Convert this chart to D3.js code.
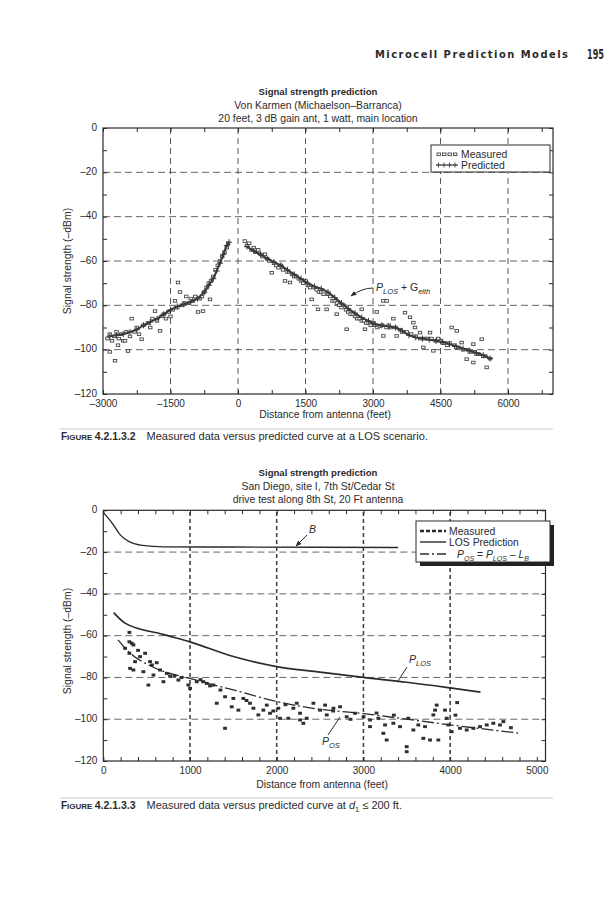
<!DOCTYPE html>
<html>
<head>
<meta charset="utf-8">
<script src="https://cdn.jsdelivr.net/npm/d3@7"></script>
<style>
  body { margin: 0; background: #fff; }
  text { font-family: "Liberation Sans", Arial, sans-serif; fill: #2b2b2b; }
</style>
</head>
<body>
<svg id="page" width="613" height="900"></svg>
<script>
// ---- top chart data (distance ft, signal dBm) ----
const topXTicks = [-3000, -1500, 0, 1500, 3000, 4500, 6000];
const topYTicks = [0, -20, -40, -60, -80, -100, -120];

const predLeftDist = [-2850, -2700, -2550, -2400, -2250, -2100, -1950, -1800, -1650, -1500, -1350, -1200, -1050, -900, -750, -650, -550, -475, -400, -325, -250, -200];
const predLeftSig = [-94, -93.5, -93, -92, -91, -89, -87.5, -86, -84, -82, -80.5, -79.5, -78.5, -77, -74, -71, -68, -64.5, -61, -57, -53, -51.5];
const predRightDist = [200, 350, 500, 650, 800, 950, 1100, 1250, 1400, 1550, 1700, 1850, 2000, 2150, 2300, 2450, 2600, 2750, 2900, 3050, 3200, 3350, 3500, 3650, 3800, 3950, 4100, 4250, 4400, 4550, 4700, 4850, 5000, 5150, 5300, 5450, 5600];
const predRightSig = [-53.5, -55.5, -57, -59, -60.5, -62, -64, -66, -68, -70, -71.5, -72.5, -74, -76.5, -79, -81.5, -83.5, -85.5, -87, -88.5, -89, -89.5, -90, -91.5, -93.5, -94.5, -95, -95.5, -96, -96.5, -97.5, -98.5, -99.5, -100.5, -101.5, -102.5, -104];

const measTopDist = [-2900, -2850, -2850, -2800, -2750, -2733, -2700, -2667, -2650, -2600, -2550, -2511, -2480, -2444, -2400, -2363, -2300, -2250, -2200, -2141, -2100, -2000, -1950, -1900, -1844, -1800, -1733, -1700, -1650, -1600, -1550, -1500, -1450, -1400, -1350, -1333, -1289, -1250, -1200, -1150, -1100, -1050, -1000, -950, -889, -850, -800, -778, -750, -700, -650, -622, -600, -550, -500, -450, -400, -350, -300, -250, -220,
  150, 200, 250, 300, 350, 400, 450, 500, 550, 600, 650, 700, 749, 800, 850, 900, 950, 1000, 1044, 1100, 1156, 1200, 1250, 1300, 1350, 1400, 1450, 1500, 1550, 1600, 1637, 1700, 1750, 1778, 1800, 1850, 1900, 1970, 2000, 2050, 2100, 2150, 2193, 2200, 2250, 2300, 2350, 2415, 2400, 2450, 2500, 2550, 2600, 2650, 2700, 2748, 2750, 2800, 2822, 2850, 2900, 2950, 3000, 3082, 3050, 3100, 3156, 3200, 3230, 3230, 3300, 3304, 3350, 3400, 3452, 3500, 3526, 3600, 3650, 3711, 3750, 3822, 3850, 3896, 3933, 3950, 4044, 4050, 4119, 4150, 4200, 4267, 4300, 4341, 4400, 4450, 4500, 4550, 4600, 4650, 4748, 4700, 4800, 4860, 4850, 4900, 4970, 5000, 5081, 5100, 5150, 5230, 5230, 5250, 5300, 5350, 5415, 5450, 5500, 5526, 5600];
const measTopSig = [-95, -93, -101, -96, -94, -105, -92, -98, -95, -93, -96, -96, -92, -100.6, -94, -86, -92, -90, -93, -95.3, -89, -88, -90, -86, -82.6, -87, -91.5, -85, -84, -86, -83, -85, -82, -78, -81, -69.7, -74, -80, -79, -76, -79, -77, -78, -76, -83, -77, -76, -82.6, -74, -72, -70, -77.3, -69, -67, -64, -62, -60, -58, -56, -54, -52,
  -51, -53, -52, -55, -54, -56, -55, -57, -58, -57, -59, -60, -65.3, -61, -62, -63, -62, -64, -69, -65, -69.7, -66, -67, -67, -68, -69, -70, -69, -71, -72, -77.3, -72, -73, -81.8, -74, -74, -75, -81.8, -75, -76, -78, -78, -84, -79, -80, -81, -80, -90.8, -82, -83, -84, -84, -85, -86, -86, -81.8, -87, -87, -90.8, -88, -88, -89, -88, -83, -89, -90, -89.3, -89, -78, -93.8, -90, -78, -89, -90, -86, -90, -93.8, -91, -92, -83.3, -92, -85.4, -93, -87.8, -90, -94, -92.3, -95, -99, -95, -95, -92.3, -95, -100.5, -96, -95, -96, -97, -97, -98, -90, -97, -98, -91.5, -99, -99, -96.8, -100, -104.3, -100, -101, -97.5, -105.8, -101, -102, -102, -95.3, -103, -103, -108, -104];

// ---- bottom chart data ----
const botXTicks = [0, 1000, 2000, 3000, 4000, 5000];
const botYTicks = [0, -20, -40, -60, -80, -100, -120];

const bDist = [0, 100, 200, 300, 450, 700, 1500, 3400];
const bSig = [-1, -6, -12, -15, -16.8, -17.5, -17.6, -17.8];
const losDist = [120, 250, 700, 1000, 1500, 2000, 2500, 3000, 3500, 4000, 4350];
const losSig = [-49, -54, -59.5, -63, -70, -74.8, -77.5, -80, -82.3, -85, -87];
const posDist = [170, 300, 570, 1000, 1500, 2000, 2400, 3000, 3500, 4000, 4800];
const posSig = [-62, -68, -75, -80.5, -86, -91.5, -94.7, -97.3, -100, -102.7, -106.7];

const measBotDist = [300, 300, 327, 346, 300, 481, 423, 365, 538, 615, 308, 346, 461, 577, 654, 731, 769, 519, 692, 865, 980, 1000, 1077, 1153, 1192, 1268, 1307, 1403, 1499, 1480, 1557, 1614, 1691, 1730, 1787, 1845, 1884, 1922, 2018, 2037, 2133, 2191, 2230, 2268, 2306, 1403, 2345,
  2268, 2422, 2499, 2557, 2576, 2653, 2730, 2806, 2902, 3000, 3075, 3075, 3171, 3229, 3248, 3267, 3344, 3421, 3498, 3498, 3517, 3575, 3632, 3709, 3690, 3767, 3805, 3825, 3844, 3863, 3940, 3959, 3978, 4017, 4113, 4190, 4267, 4344, 4421, 4497, 4574, 4613,
  250, 400, 560, 820, 900, 1120, 1230, 1350, 1650, 1960, 2100, 2650, 2850, 3150, 3350, 4060, 4080, 4700];
const measBotSig = [-58.4, -62.9, -63.6, -64.4, -68.4, -68.4, -70, -72.4, -72.4, -72.9, -75.6, -76.4, -77.2, -78.8, -76.4, -78, -79.3, -83.6, -82, -81.2, -83.6, -85.2, -82, -82, -82.8, -83.6, -92.3, -89.2, -90, -94, -95.6, -90, -92.3, -94.7, -97.9, -95.6, -93.2, -97.1, -94.7, -99.5, -99.5, -94.7, -92.3, -97.1, -101.9, -104.3, -99.5,
  -100.3, -92.3, -95.6, -93.2, -97.9, -94.7, -94, -98.8, -97.1, -98.8, -100.3, -103.5, -99.5, -106.7, -102.7, -109.9, -101.9, -103.5, -113.1, -115.5, -99.5, -105.1, -102.7, -103.5, -109.1, -109.9, -97.9, -95.6, -93.2, -109.9, -95.6, -99.5, -102.7, -105.9, -104.3, -105.1, -104.3, -103.5, -102.7, -101.9, -102.7, -101.1,
  -66, -67, -74, -79, -80, -81, -84, -86, -91, -96, -93, -96, -100, -97, -98, -98, -92, -104];

const svg = d3.select('#page');
const ink = '#2b2b2b';
const fmt = d => (d < 0 ? '\u2013' + Math.abs(d) : '' + d);

// arrow head marker
svg.append('defs').append('marker')
  .attr('id', 'arr').attr('viewBox', '0 0 10 10').attr('refX', 9).attr('refY', 5)
  .attr('markerWidth', 6).attr('markerHeight', 6).attr('orient', 'auto')
  .append('path').attr('d', 'M0,1 L10,5 L0,9 z').attr('fill', ink);

// header
svg.append('text').attr('x', 375).attr('y', 58)
  .style('font-family', '"DejaVu Sans Condensed","DejaVu Sans",sans-serif')
  .style('font-weight', 'bold').style('font-size', '11px')
  .attr('textLength', 193).attr('lengthAdjust', 'spacing')
  .text('Microcell Prediction Models');
svg.append('text').attr('x', 587).attr('y', 59)
  .style('font-family', '"DejaVu Sans Condensed","DejaVu Sans",sans-serif')
  .style('font-weight', 'bold').style('font-size', '14px')
  .attr('textLength', 17).attr('lengthAdjust', 'spacingAndGlyphs').text('195');

function titles(cx, y0, lines) {
  lines.forEach((t, i) => {
    svg.append('text').attr('x', cx).attr('y', y0 + i * 13.5)
      .attr('text-anchor', 'middle')
      .style('font-size', i === 0 ? '9.6px' : '10.4px').style('font-weight', i === 0 ? 'bold' : 'normal')
      .text(t);
  });
}

function frame(x, y, xTicks, xMinor, yMinor, xGrid, yGrid, vDash) {
  const g = svg.append('g');
  const [x0, x1] = x.range(), [y0, y1] = y.range();
  // grid
  g.selectAll('.hg').data(yGrid).join('line')
    .attr('x1', x0).attr('x2', x1).attr('y1', d => y(d)).attr('y2', d => y(d))
    .attr('stroke', '#555').attr('stroke-width', 0.9).attr('stroke-dasharray', '7,4');
  g.selectAll('.vg').data(xGrid).join('line')
    .attr('x1', d => x(d)).attr('x2', d => x(d)).attr('y1', y0).attr('y2', y1)
    .attr('stroke', '#444').attr('stroke-width', vDash.w).attr('stroke-dasharray', vDash.d);
  // axes
  const ax = d3.axisBottom(x).tickValues(xMinor).tickSizeInner(-4).tickSizeOuter(0)
    .tickFormat(d => (xTicks.includes(d) ? fmt(d) : ''));
  const axg = g.append('g').attr('transform', `translate(0,${y0})`).call(ax);
  const ay = d3.axisLeft(y).tickValues(yMinor).tickSizeInner(-4).tickSizeOuter(0)
    .tickFormat(d => (d % 20 === 0 ? fmt(d) : ''));
  const ayg = g.append('g').attr('transform', `translate(${x0},0)`).call(ay);
  g.append('g').attr('transform', `translate(0,${y1})`)
    .call(d3.axisTop(x).tickValues(xMinor).tickSizeInner(-4).tickSizeOuter(0).tickFormat(''));
  g.append('g').attr('transform', `translate(${x1},0)`)
    .call(d3.axisRight(y).tickValues(yMinor).tickSizeInner(-4).tickSizeOuter(0).tickFormat(''));
  g.selectAll('.domain').remove();
  g.selectAll('.tick line').attr('stroke', ink);
  g.selectAll('.tick text').style('font-size', '10px').attr('fill', ink);
  axg.selectAll('.tick text').attr('y', 4).attr('dy', '0.85em');
  ayg.selectAll('.tick text').attr('x', -6).attr('dy', '0.2em');
  g.append('rect').attr('x', x0).attr('y', y1).attr('width', x1 - x0).attr('height', y0 - y1)
    .attr('fill', 'none').attr('stroke', ink).attr('stroke-width', 1.2);
  return g;
}

// ================= TOP CHART =================
const xT = d3.scaleLinear().domain([-3000, 7000]).range([103, 553]);
const yT = d3.scaleLinear().domain([-120, 0]).range([394, 128]);

titles(318, 95, ['Signal strength prediction', 'Von Karmen  (Michaelson\u2013Barranca)', '20 feet, 3 dB gain ant, 1 watt, main location']);
frame(xT, yT, topXTicks, d3.range(-3000, 7001, 750), d3.range(-120, 1, 10),
  [-1500, 0, 1500, 3000, 4500, 6000], [-20, -40, -60, -80, -100], { w: 0.9, d: '6,4' });

const measTop = measTopDist.map((d, i) => [d, measTopSig[i]]);
svg.append('g').selectAll('rect').data(measTop).join('rect')
  .attr('x', d => xT(d[0]) - 1.7).attr('y', d => yT(d[1]) - 1.3)
  .attr('width', 3.4).attr('height', 2.6)
  .attr('fill', '#fff').attr('stroke', '#444').attr('stroke-width', 0.9);

const lineT = d3.line().x(d => xT(d[0])).y(d => yT(d[1]));
[[predLeftDist, predLeftSig], [predRightDist, predRightSig]].forEach(([ds, ss]) => {
  const pts = ds.map((d, i) => [d, ss[i]]);
  svg.append('path').attr('d', lineT(pts)).attr('fill', 'none').attr('stroke', '#3a3a3a').attr('stroke-width', 2);
  svg.append('g').selectAll('path').data(pts).join('path')
    .attr('d', d => `M${xT(d[0]) - 3},${yT(d[1])}h6M${xT(d[0])},${yT(d[1]) - 3}v6`)
    .attr('stroke', '#3a3a3a').attr('stroke-width', 1);
});

// annotation
svg.append('path').attr('d', 'M373,288 Q362,288 351,296').attr('fill', 'none')
  .attr('stroke', ink).attr('stroke-width', 1).attr('marker-end', 'url(#arr)');
const an1 = svg.append('text').attr('x', 376).attr('y', 291).style('font-size', '10.5px');
an1.append('tspan').style('font-style', 'italic').text('P');
an1.append('tspan').attr('dy', 2.5).style('font-size', '7.5px').style('font-style', 'italic').text('LOS');
an1.append('tspan').attr('dy', -2.5).text(' + G');
an1.append('tspan').attr('dy', 2.5).style('font-size', '7.5px').style('font-style', 'italic').text('elth');

// legend
const lg1 = svg.append('g');
lg1.append('rect').attr('x', 431).attr('y', 145).attr('width', 119).attr('height', 27)
  .attr('fill', '#fff').attr('stroke', ink).attr('stroke-width', 1);
[0, 1, 2, 3].forEach(i => {
  lg1.append('rect').attr('x', 437 + i * 5.5).attr('y', 153).attr('width', 3.4).attr('height', 2.6)
    .attr('fill', '#fff').attr('stroke', '#444').attr('stroke-width', 0.9);
  lg1.append('path').attr('d', `M${436 + i * 5.5},165h5M${438.5 + i * 5.5},162.5v5`).attr('stroke', '#444').attr('stroke-width', 0.9);
});
lg1.append('line').attr('x1', 436).attr('x2', 458).attr('y1', 165).attr('y2', 165).attr('stroke', '#444').attr('stroke-width', 1);
lg1.append('text').attr('x', 461).attr('y', 158).style('font-size', '10.4px').text('Measured');
lg1.append('text').attr('x', 461).attr('y', 168.5).style('font-size', '10.4px').text('Predicted');

svg.append('text').attr('x', 325).attr('y', 418).attr('text-anchor', 'middle').style('font-size', '10.4px')
  .text('Distance from antenna (feet)');
svg.append('text').attr('transform', 'translate(71,261) rotate(-90)').attr('text-anchor', 'middle')
  .style('font-size', '10.4px').text('Signal strength (\u2013dBm)');

function caption(y, num, rest, sub) {
  svg.append('line').attr('x1', 60).attr('x2', 553).attr('y1', y - 11).attr('y2', y - 11)
    .attr('stroke', '#bbb').attr('stroke-width', 0.8);
  const t = svg.append('text').attr('x', 61).attr('y', y).style('font-size', '11px');
  t.append('tspan').style('font-weight', 'bold').style('font-size', '10px').text('F');
  t.append('tspan').style('font-weight', 'bold').style('font-size', '8px').text('IGURE ');
  t.append('tspan').style('font-weight', 'bold').style('font-size', '10.5px').text(num);
  t.append('tspan').attr('dx', 11).text(rest);
  if (sub) {
    t.append('tspan').style('font-style', 'italic').text('d');
    t.append('tspan').attr('dy', 2.5).style('font-size', '7.5px').text('1');
    t.append('tspan').attr('dy', -2.5).text(sub);
  }
}
caption(440, '4.2.1.3.2', 'Measured data versus predicted curve at a LOS scenario.');

// ================= BOTTOM CHART =================
const xB = d3.scaleLinear().domain([0, 5100]).range([103.3, 545.5]);
const yB = d3.scaleLinear().domain([-120, 0]).range([761, 510.3]);

titles(318, 476, ['Signal strength prediction', 'San Diego, site I, 7th St/Cedar St', 'drive test along 8th St, 20 Ft antenna']);
frame(xB, yB, botXTicks, d3.range(0, 5001, 200), d3.range(-120, 1, 10),
  [1000, 2000, 3000, 4000], [-20, -40, -60, -80, -100], { w: 1.6, d: '4,3' });

const lineB = d3.line().x(d => xB(d[0])).y(d => yB(d[1])).curve(d3.curveMonotoneX);
svg.append('path').attr('d', lineB(bDist.map((d, i) => [d, bSig[i]])))
  .attr('fill', 'none').attr('stroke', ink).attr('stroke-width', 1.4);
svg.append('path').attr('d', lineB(losDist.map((d, i) => [d, losSig[i]])))
  .attr('fill', 'none').attr('stroke', ink).attr('stroke-width', 1.7);
svg.append('path').attr('d', lineB(posDist.map((d, i) => [d, posSig[i]])))
  .attr('fill', 'none').attr('stroke', ink).attr('stroke-width', 1.3).attr('stroke-dasharray', '12,3,2,3');

svg.append('g').selectAll('rect').data(measBotDist.map((d, i) => [d, measBotSig[i]])).join('rect')
  .attr('x', d => xB(d[0]) - 1.8).attr('y', d => yB(d[1]) - 1.4)
  .attr('width', 3.8).attr('height', 3).attr('fill', '#2e2e2e');

// annotations
svg.append('text').attr('x', 309).attr('y', 533).style('font-size', '10.5px').style('font-style', 'italic').text('B');
svg.append('line').attr('x1', 307).attr('y1', 535).attr('x2', 296).attr('y2', 546)
  .attr('stroke', ink).attr('stroke-width', 1).attr('marker-end', 'url(#arr)');
const an2 = svg.append('text').attr('x', 409).attr('y', 663).style('font-size', '10.5px').style('font-style', 'italic');
an2.append('tspan').text('P');
an2.append('tspan').attr('dy', 2.5).style('font-size', '7.5px').text('LOS');
svg.append('line').attr('x1', 407).attr('y1', 667).attr('x2', 398).attr('y2', 681)
  .attr('stroke', ink).attr('stroke-width', 1);
const an3 = svg.append('text').attr('x', 322).attr('y', 745).style('font-size', '10.5px').style('font-style', 'italic');
an3.append('tspan').text('P');
an3.append('tspan').attr('dy', 2.5).style('font-size', '7.5px').text('OS');
svg.append('line').attr('x1', 328).attr('y1', 735).attr('x2', 340).attr('y2', 717)
  .attr('stroke', ink).attr('stroke-width', 1);

// legend with shadow
const lg2 = svg.append('g');
lg2.append('rect').attr('x', 420).attr('y', 525).attr('width', 134).attr('height', 41).attr('fill', '#222');
lg2.append('rect').attr('x', 416).attr('y', 521).attr('width', 134).attr('height', 41)
  .attr('fill', '#fff').attr('stroke', ink).attr('stroke-width', 1);
lg2.append('line').attr('x1', 420).attr('x2', 446).attr('y1', 531).attr('y2', 531)
  .attr('stroke', ink).attr('stroke-width', 2.4).attr('stroke-dasharray', '4,2');
lg2.append('line').attr('x1', 420).attr('x2', 446).attr('y1', 542).attr('y2', 542)
  .attr('stroke', ink).attr('stroke-width', 1.4);
lg2.append('line').attr('x1', 420).attr('x2', 446).attr('y1', 554).attr('y2', 554)
  .attr('stroke', ink).attr('stroke-width', 1.3).attr('stroke-dasharray', '9,3,2,3');
lg2.append('text').attr('x', 449).attr('y', 535).style('font-size', '10.4px').text('Measured');
lg2.append('text').attr('x', 449).attr('y', 546).style('font-size', '10.4px').text('LOS Prediction');
const lt = lg2.append('text').attr('x', 457).attr('y', 558).style('font-size', '10.4px').style('font-style', 'italic');
lt.append('tspan').text('P');
lt.append('tspan').attr('dy', 2.5).style('font-size', '7px').text('OS');
lt.append('tspan').attr('dy', -2.5).style('font-style', 'normal').text(' = ');
lt.append('tspan').text('P');
lt.append('tspan').attr('dy', 2.5).style('font-size', '7px').text('LOS');
lt.append('tspan').attr('dy', -2.5).style('font-style', 'normal').text(' \u2013 ');
lt.append('tspan').text('L');
lt.append('tspan').attr('dy', 2.5).style('font-size', '7px').text('B');

svg.append('text').attr('x', 322).attr('y', 788).attr('text-anchor', 'middle').style('font-size', '10.4px')
  .text('Distance from antenna (feet)');
svg.append('text').attr('transform', 'translate(71,641) rotate(-90)').attr('text-anchor', 'middle')
  .style('font-size', '10.4px').text('Signal strength (\u2013dBm)');

caption(809, '4.2.1.3.3', 'Measured data versus predicted curve at ', ' \u2264 200 ft.');
</script>
</body>
</html>
